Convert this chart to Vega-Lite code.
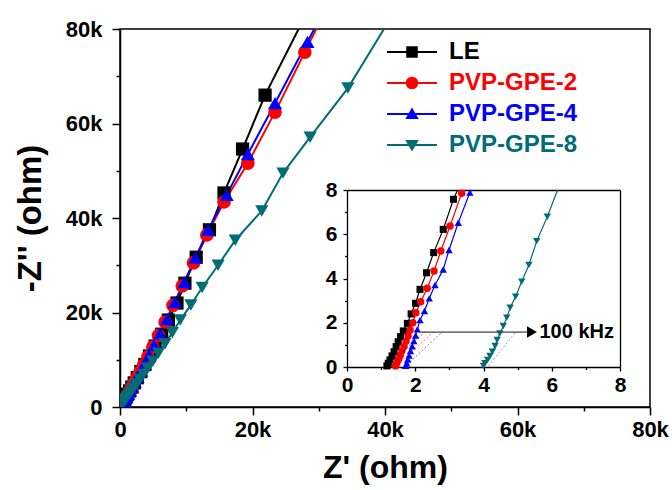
{
  "$schema": "https://vega.github.io/schema/vega-lite/v6.json",
  "width": 530,
  "height": 378,
  "autosize": "none",
  "padding": {"left": 120, "top": 29, "right": 22, "bottom": 83},
  "background": "white",
  "config": {
    "view": {"stroke": "black", "strokeWidth": 1.5},
    "font": "Liberation Sans",
    "axis": {"grid": false}
  },
  "datasets": {
    "main": [
      {"s": "LE", "x": 27500, "y": 81500}, {"s": "LE", "x": 21900, "y": 66000}, {"s": "LE", "x": 18500, "y": 54600}, {"s": "LE", "x": 15700, "y": 45300}, {"s": "LE", "x": 13500, "y": 37500}, {"s": "LE", "x": 11500, "y": 31700}, {"s": "LE", "x": 9800, "y": 26200}, {"s": "LE", "x": 8600, "y": 22000}, {"s": "LE", "x": 7300, "y": 18400}, {"s": "LE", "x": 6300, "y": 15400}, {"s": "LE", "x": 5300, "y": 12900}, {"s": "LE", "x": 4450, "y": 10800}, {"s": "LE", "x": 3750, "y": 9000}, {"s": "LE", "x": 3150, "y": 7500}, {"s": "LE", "x": 2600, "y": 6200}, {"s": "LE", "x": 2150, "y": 5100}, {"s": "LE", "x": 1780, "y": 4200}, {"s": "LE", "x": 1450, "y": 3400}, {"s": "LE", "x": 1150, "y": 2700}, {"s": "LE", "x": 900, "y": 2100}, {"s": "LE", "x": 690, "y": 1600}, {"s": "LE", "x": 520, "y": 1200}, {"s": "LE", "x": 370, "y": 850}, {"s": "LE", "x": 240, "y": 550}, {"s": "LE", "x": 130, "y": 300}, {"s": "LE", "x": 55, "y": 120}, {"s": "LE", "x": 10, "y": 20},
      {"s": "PVP-GPE-2", "x": 31500, "y": 85300}, {"s": "PVP-GPE-2", "x": 27900, "y": 75100}, {"s": "PVP-GPE-2", "x": 23400, "y": 62400}, {"s": "PVP-GPE-2", "x": 19300, "y": 51600}, {"s": "PVP-GPE-2", "x": 15700, "y": 43400}, {"s": "PVP-GPE-2", "x": 13100, "y": 36400}, {"s": "PVP-GPE-2", "x": 11100, "y": 30500}, {"s": "PVP-GPE-2", "x": 9400, "y": 25600}, {"s": "PVP-GPE-2", "x": 8000, "y": 21500}, {"s": "PVP-GPE-2", "x": 6800, "y": 18000}, {"s": "PVP-GPE-2", "x": 5800, "y": 15100}, {"s": "PVP-GPE-2", "x": 4950, "y": 12700}, {"s": "PVP-GPE-2", "x": 4200, "y": 10600}, {"s": "PVP-GPE-2", "x": 3550, "y": 8900}, {"s": "PVP-GPE-2", "x": 3000, "y": 7400}, {"s": "PVP-GPE-2", "x": 2520, "y": 6100}, {"s": "PVP-GPE-2", "x": 2100, "y": 5000}, {"s": "PVP-GPE-2", "x": 1750, "y": 4100}, {"s": "PVP-GPE-2", "x": 1430, "y": 3300}, {"s": "PVP-GPE-2", "x": 1150, "y": 2600}, {"s": "PVP-GPE-2", "x": 900, "y": 2000}, {"s": "PVP-GPE-2", "x": 690, "y": 1500}, {"s": "PVP-GPE-2", "x": 510, "y": 1100}, {"s": "PVP-GPE-2", "x": 360, "y": 750}, {"s": "PVP-GPE-2", "x": 230, "y": 450}, {"s": "PVP-GPE-2", "x": 120, "y": 220}, {"s": "PVP-GPE-2", "x": 40, "y": 60},
      {"s": "PVP-GPE-4", "x": 31600, "y": 86000}, {"s": "PVP-GPE-4", "x": 28300, "y": 77300}, {"s": "PVP-GPE-4", "x": 23400, "y": 64300}, {"s": "PVP-GPE-4", "x": 19300, "y": 53500}, {"s": "PVP-GPE-4", "x": 16100, "y": 44900}, {"s": "PVP-GPE-4", "x": 13300, "y": 37500}, {"s": "PVP-GPE-4", "x": 11400, "y": 31600}, {"s": "PVP-GPE-4", "x": 9700, "y": 26400}, {"s": "PVP-GPE-4", "x": 8300, "y": 22200}, {"s": "PVP-GPE-4", "x": 7100, "y": 18600}, {"s": "PVP-GPE-4", "x": 6050, "y": 15600}, {"s": "PVP-GPE-4", "x": 5150, "y": 13100}, {"s": "PVP-GPE-4", "x": 4400, "y": 11000}, {"s": "PVP-GPE-4", "x": 3750, "y": 9200}, {"s": "PVP-GPE-4", "x": 3150, "y": 7700}, {"s": "PVP-GPE-4", "x": 2650, "y": 6400}, {"s": "PVP-GPE-4", "x": 2220, "y": 5300}, {"s": "PVP-GPE-4", "x": 1840, "y": 4300}, {"s": "PVP-GPE-4", "x": 1520, "y": 3500}, {"s": "PVP-GPE-4", "x": 1230, "y": 2800}, {"s": "PVP-GPE-4", "x": 980, "y": 2200}, {"s": "PVP-GPE-4", "x": 760, "y": 1650}, {"s": "PVP-GPE-4", "x": 570, "y": 1200}, {"s": "PVP-GPE-4", "x": 410, "y": 820}, {"s": "PVP-GPE-4", "x": 270, "y": 500}, {"s": "PVP-GPE-4", "x": 150, "y": 250}, {"s": "PVP-GPE-4", "x": 50, "y": 70},
      {"s": "PVP-GPE-8", "x": 40500, "y": 81500}, {"s": "PVP-GPE-8", "x": 34400, "y": 67500}, {"s": "PVP-GPE-8", "x": 28700, "y": 57100}, {"s": "PVP-GPE-8", "x": 24600, "y": 49500}, {"s": "PVP-GPE-8", "x": 21400, "y": 41500}, {"s": "PVP-GPE-8", "x": 17400, "y": 35300}, {"s": "PVP-GPE-8", "x": 14800, "y": 30000}, {"s": "PVP-GPE-8", "x": 12400, "y": 25300}, {"s": "PVP-GPE-8", "x": 10700, "y": 21600}, {"s": "PVP-GPE-8", "x": 9100, "y": 18400}, {"s": "PVP-GPE-8", "x": 7900, "y": 15700}, {"s": "PVP-GPE-8", "x": 6800, "y": 13400}, {"s": "PVP-GPE-8", "x": 5800, "y": 11400}, {"s": "PVP-GPE-8", "x": 4950, "y": 9700}, {"s": "PVP-GPE-8", "x": 4200, "y": 8200}, {"s": "PVP-GPE-8", "x": 3550, "y": 6900}, {"s": "PVP-GPE-8", "x": 3000, "y": 5800}, {"s": "PVP-GPE-8", "x": 2500, "y": 4850}, {"s": "PVP-GPE-8", "x": 2080, "y": 4000}, {"s": "PVP-GPE-8", "x": 1720, "y": 3300}, {"s": "PVP-GPE-8", "x": 1400, "y": 2700}, {"s": "PVP-GPE-8", "x": 1120, "y": 2150}, {"s": "PVP-GPE-8", "x": 870, "y": 1650}, {"s": "PVP-GPE-8", "x": 660, "y": 1250}, {"s": "PVP-GPE-8", "x": 470, "y": 900}, {"s": "PVP-GPE-8", "x": 320, "y": 600}, {"s": "PVP-GPE-8", "x": 190, "y": 350}, {"s": "PVP-GPE-8", "x": 90, "y": 160}, {"s": "PVP-GPE-8", "x": 25, "y": 40}
    ],
    "inset": [
      {"s": "LE", "x": 1.17, "y": 0.05}, {"s": "LE", "x": 1.21, "y": 0.17}, {"s": "LE", "x": 1.26, "y": 0.32}, {"s": "LE", "x": 1.32, "y": 0.50}, {"s": "LE", "x": 1.38, "y": 0.69}, {"s": "LE", "x": 1.44, "y": 0.92}, {"s": "LE", "x": 1.50, "y": 1.14}, {"s": "LE", "x": 1.57, "y": 1.37}, {"s": "LE", "x": 1.65, "y": 1.63}, {"s": "LE", "x": 1.77, "y": 1.97}, {"s": "LE", "x": 1.88, "y": 2.40}, {"s": "LE", "x": 2.01, "y": 2.88}, {"s": "LE", "x": 2.14, "y": 3.51}, {"s": "LE", "x": 2.33, "y": 4.26}, {"s": "LE", "x": 2.54, "y": 5.17}, {"s": "LE", "x": 2.82, "y": 6.22}, {"s": "LE", "x": 3.12, "y": 7.58}, {"s": "LE", "x": 3.24, "y": 8.15},
      {"s": "PVP-GPE-2", "x": 1.42, "y": 0.05}, {"s": "PVP-GPE-2", "x": 1.46, "y": 0.17}, {"s": "PVP-GPE-2", "x": 1.51, "y": 0.34}, {"s": "PVP-GPE-2", "x": 1.56, "y": 0.52}, {"s": "PVP-GPE-2", "x": 1.61, "y": 0.72}, {"s": "PVP-GPE-2", "x": 1.67, "y": 0.93}, {"s": "PVP-GPE-2", "x": 1.73, "y": 1.16}, {"s": "PVP-GPE-2", "x": 1.79, "y": 1.40}, {"s": "PVP-GPE-2", "x": 1.85, "y": 1.67}, {"s": "PVP-GPE-2", "x": 1.93, "y": 2.00}, {"s": "PVP-GPE-2", "x": 2.02, "y": 2.45}, {"s": "PVP-GPE-2", "x": 2.16, "y": 2.95}, {"s": "PVP-GPE-2", "x": 2.35, "y": 3.56}, {"s": "PVP-GPE-2", "x": 2.55, "y": 4.34}, {"s": "PVP-GPE-2", "x": 2.75, "y": 5.24}, {"s": "PVP-GPE-2", "x": 3.02, "y": 6.37}, {"s": "PVP-GPE-2", "x": 3.36, "y": 7.85}, {"s": "PVP-GPE-2", "x": 3.45, "y": 8.15},
      {"s": "PVP-GPE-4", "x": 1.72, "y": 0.05}, {"s": "PVP-GPE-4", "x": 1.75, "y": 0.17}, {"s": "PVP-GPE-4", "x": 1.78, "y": 0.34}, {"s": "PVP-GPE-4", "x": 1.82, "y": 0.52}, {"s": "PVP-GPE-4", "x": 1.86, "y": 0.72}, {"s": "PVP-GPE-4", "x": 1.91, "y": 0.94}, {"s": "PVP-GPE-4", "x": 1.96, "y": 1.17}, {"s": "PVP-GPE-4", "x": 2.01, "y": 1.42}, {"s": "PVP-GPE-4", "x": 2.06, "y": 1.70}, {"s": "PVP-GPE-4", "x": 2.14, "y": 2.12}, {"s": "PVP-GPE-4", "x": 2.27, "y": 2.53}, {"s": "PVP-GPE-4", "x": 2.41, "y": 3.10}, {"s": "PVP-GPE-4", "x": 2.58, "y": 3.71}, {"s": "PVP-GPE-4", "x": 2.82, "y": 4.41}, {"s": "PVP-GPE-4", "x": 2.99, "y": 5.29}, {"s": "PVP-GPE-4", "x": 3.26, "y": 6.52}, {"s": "PVP-GPE-4", "x": 3.60, "y": 7.88}, {"s": "PVP-GPE-4", "x": 3.66, "y": 8.15},
      {"s": "PVP-GPE-8", "x": 4.00, "y": 0.05}, {"s": "PVP-GPE-8", "x": 4.04, "y": 0.17}, {"s": "PVP-GPE-8", "x": 4.12, "y": 0.32}, {"s": "PVP-GPE-8", "x": 4.19, "y": 0.50}, {"s": "PVP-GPE-8", "x": 4.26, "y": 0.69}, {"s": "PVP-GPE-8", "x": 4.34, "y": 0.95}, {"s": "PVP-GPE-8", "x": 4.40, "y": 1.22}, {"s": "PVP-GPE-8", "x": 4.48, "y": 1.52}, {"s": "PVP-GPE-8", "x": 4.58, "y": 1.85}, {"s": "PVP-GPE-8", "x": 4.68, "y": 2.23}, {"s": "PVP-GPE-8", "x": 4.78, "y": 2.68}, {"s": "PVP-GPE-8", "x": 4.94, "y": 3.18}, {"s": "PVP-GPE-8", "x": 5.12, "y": 3.86}, {"s": "PVP-GPE-8", "x": 5.33, "y": 4.61}, {"s": "PVP-GPE-8", "x": 5.56, "y": 5.69}, {"s": "PVP-GPE-8", "x": 5.87, "y": 6.79}, {"s": "PVP-GPE-8", "x": 6.17, "y": 8.15}
    ],
    "guides": [
      {"s": "LE", "x": 1.2, "y": 0.1, "x2": 2.3, "y2": 1.6},
      {"s": "PVP-GPE-2", "x": 1.46, "y": 0.1, "x2": 2.55, "y2": 1.6},
      {"s": "PVP-GPE-4", "x": 1.76, "y": 0.1, "x2": 2.8, "y2": 1.6},
      {"s": "PVP-GPE-8", "x": 4.15, "y": 0.05, "x2": 4.95, "y2": 1.6}
    ],
    "arrow": [{"x": 2.15, "x2": 5.42, "y": 1.58}],
    "note": [{"x": 5.64, "y": 1.58, "t": "100 kHz"}]
  },
  "resolve": {"scale": {"x": "independent", "y": "independent"}},
  "layer": [
    {
      "data": {"name": "main"},
      "mark": {"type": "line", "clip": true, "strokeWidth": 2},
      "encoding": {
        "x": {"field": "x", "type": "quantitative", "scale": {"domain": [0, 80000], "nice": false, "zero": false},
          "axis": {"orient": "bottom", "values": [0, 20000, 40000, 60000, 80000], "labelExpr": "datum.value == 0 ? '0' : (datum.value / 1000) + 'k'", "title": "Z' (ohm)", "tickSize": 8, "tickWidth": 1.5, "tickColor": "black", "domainColor": "black", "domainWidth": 1.5, "labelFont": "Liberation Sans", "labelFontSize": 22, "labelFontWeight": "bold", "labelColor": "black", "labelPadding": 4, "labelFlush": false, "labelOverlap": false, "titleFont": "Liberation Sans", "titleFontSize": 32, "titleFontWeight": "bold", "titleColor": "black", "titlePadding": 12, "grid": false}},
        "y": {"field": "y", "type": "quantitative", "scale": {"domain": [0, 80000], "nice": false, "zero": false},
          "axis": {"orient": "left", "values": [0, 20000, 40000, 60000, 80000], "labelExpr": "datum.value == 0 ? '0' : (datum.value / 1000) + 'k'", "title": "-Z'' (ohm)", "tickSize": 8, "tickWidth": 1.5, "tickColor": "black", "domainColor": "black", "domainWidth": 1.5, "labelFont": "Liberation Sans", "labelFontSize": 22, "labelFontWeight": "bold", "labelColor": "black", "labelPadding": 10, "labelFlush": false, "labelOverlap": false, "titleFont": "Liberation Sans", "titleFontSize": 33, "titleFontWeight": "bold", "titleColor": "black", "titlePadding": 18, "grid": false}},
        "order": {"field": "y", "type": "quantitative"},
        "color": {"field": "s", "type": "nominal",
          "scale": {"domain": ["LE", "PVP-GPE-2", "PVP-GPE-4", "PVP-GPE-8"], "range": ["#000000", "#ff0000", "#0000ff", "#006c75"]},
          "legend": {"orient": "none", "legendX": 260, "legendY": 11, "title": null, "padding": 0, "labelFont": "Liberation Sans", "labelFontSize": 24, "labelFontWeight": "bold", "labelOffset": 25, "labelLimit": 0, "rowPadding": 7, "symbolSize": 100, "symbolOffset": 20, "symbolType": "square",
            "encode": {
              "labels": {"update": {"fill": {"scale": "color", "field": "value"}}},
              "symbols": {"update": {
                "shape": {"signal": "datum.value == 'LE' ? 'M-5,-0.2H5V0.2H-5Z M-1.15,-1.15H1.15V1.15H-1.15Z' : datum.value == 'PVP-GPE-2' ? 'M-5,-0.2H5V0.2H-5Z M-1.25,0A1.25,1.25 0 1,1 1.25,0A1.25,1.25 0 1,1 -1.25,0Z' : datum.value == 'PVP-GPE-4' ? 'M-5,-0.2H5V0.2H-5Z M0,-1.3L1.35,1L-1.35,1Z' : 'M-5,-0.2H5V0.2H-5Z M0,1.3L-1.35,-1L1.35,-1Z'"},
                "fill": {"scale": "color", "field": "value"},
                "stroke": {"value": "transparent"},
                "strokeWidth": {"value": 0},
                "opacity": {"value": 1}
              }}
            }
          }
        }
      }
    },
    {
      "data": {"name": "main"},
      "transform": [{"filter": "datum.y <= 80000 && datum.s == 'LE'"}],
      "mark": {"type": "point", "shape": "square", "filled": true, "size": 175, "opacity": 1, "clip": true},
      "encoding": {
        "x": {"field": "x", "type": "quantitative", "scale": {"domain": [0, 80000], "nice": false, "zero": false}, "axis": null},
        "y": {"field": "y", "type": "quantitative", "scale": {"domain": [0, 80000], "nice": false, "zero": false}, "axis": null},
        "color": {"field": "s", "type": "nominal", "legend": null}
      }
    },
    {
      "data": {"name": "main"},
      "transform": [{"filter": "datum.y <= 80000 && datum.s == 'PVP-GPE-2'"}],
      "mark": {"type": "point", "shape": "circle", "filled": true, "size": 185, "opacity": 1, "clip": true},
      "encoding": {
        "x": {"field": "x", "type": "quantitative", "scale": {"domain": [0, 80000], "nice": false, "zero": false}, "axis": null},
        "y": {"field": "y", "type": "quantitative", "scale": {"domain": [0, 80000], "nice": false, "zero": false}, "axis": null},
        "color": {"field": "s", "type": "nominal", "legend": null}
      }
    },
    {
      "data": {"name": "main"},
      "transform": [{"filter": "datum.y <= 80000 && datum.s == 'PVP-GPE-4'"}],
      "mark": {"type": "point", "shape": "triangle-up", "filled": true, "size": 200, "opacity": 1, "clip": true},
      "encoding": {
        "x": {"field": "x", "type": "quantitative", "scale": {"domain": [0, 80000], "nice": false, "zero": false}, "axis": null},
        "y": {"field": "y", "type": "quantitative", "scale": {"domain": [0, 80000], "nice": false, "zero": false}, "axis": null},
        "color": {"field": "s", "type": "nominal", "legend": null}
      }
    },
    {
      "data": {"name": "main"},
      "transform": [{"filter": "datum.y <= 80000 && datum.s == 'PVP-GPE-8'"}],
      "mark": {"type": "point", "shape": "triangle-down", "filled": true, "size": 175, "opacity": 1, "clip": true},
      "encoding": {
        "x": {"field": "x", "type": "quantitative", "scale": {"domain": [0, 80000], "nice": false, "zero": false}, "axis": null},
        "y": {"field": "y", "type": "quantitative", "scale": {"domain": [0, 80000], "nice": false, "zero": false}, "axis": null},
        "color": {"field": "s", "type": "nominal", "legend": null}
      }
    },
    {
      "data": {"name": "main"},
      "mark": {"type": "point", "opacity": 0},
      "encoding": {
        "x": {"field": "x", "type": "quantitative", "scale": {"domain": [0, 80000], "nice": false, "zero": false},
          "axis": {"orient": "bottom", "values": [10000, 30000, 50000, 70000], "labels": false, "domain": false, "tickSize": 4, "tickWidth": 1.5, "tickColor": "black", "title": null, "grid": false}},
        "y": {"field": "y", "type": "quantitative", "scale": {"domain": [0, 80000], "nice": false, "zero": false},
          "axis": {"orient": "left", "values": [10000, 30000, 50000, 70000], "labels": false, "domain": false, "tickSize": 4, "tickWidth": 1.5, "tickColor": "black", "title": null, "grid": false}}
      }
    },
    {
      "data": {"name": "inset"},
      "mark": {"type": "point", "opacity": 0},
      "encoding": {
        "x": {"field": "x", "type": "quantitative", "scale": {"domain": [0, 8], "range": [227, 500], "nice": false, "zero": false},
          "axis": {"orient": "top", "offset": -161, "labels": false, "ticks": false, "domainColor": "black", "domainWidth": 1.3, "title": null, "grid": false}},
        "y": {"field": "y", "type": "quantitative", "scale": {"domain": [0, 8], "range": [338, 161], "nice": false, "zero": false, "clamp": true},
          "axis": {"orient": "right", "offset": -30, "labels": false, "ticks": false, "domainColor": "black", "domainWidth": 1.3, "title": null, "grid": false}}
      }
    },
    {
      "data": {"name": "inset"},
      "mark": {"type": "line", "strokeWidth": 1.2},
      "encoding": {
        "x": {"field": "x", "type": "quantitative", "scale": {"domain": [0, 8], "range": [227, 500], "nice": false, "zero": false},
          "axis": {"orient": "bottom", "offset": -40, "values": [0, 2, 4, 6, 8], "tickSize": 4, "tickWidth": 1.3, "tickColor": "black", "domainColor": "black", "domainWidth": 1.3, "labelFont": "Liberation Sans", "labelFontSize": 21, "labelFontWeight": "bold", "labelColor": "black", "labelPadding": 3, "labelFlush": false, "labelOverlap": false, "title": null, "grid": false}},
        "y": {"field": "y", "type": "quantitative", "scale": {"domain": [0, 8], "range": [338, 161], "nice": false, "zero": false, "clamp": true},
          "axis": {"orient": "left", "offset": -227, "values": [0, 2, 4, 6, 8], "tickSize": 4, "tickWidth": 1.3, "tickColor": "black", "domainColor": "black", "domainWidth": 1.3, "labelFont": "Liberation Sans", "labelFontSize": 21, "labelFontWeight": "bold", "labelColor": "black", "labelPadding": 6, "labelFlush": false, "labelOverlap": false, "title": null, "grid": false}},
        "order": {"field": "y", "type": "quantitative"},
        "color": {"field": "s", "type": "nominal", "legend": null}
      }
    },
    {
      "data": {"name": "inset"},
      "transform": [{"filter": "datum.y <= 8 && datum.s == 'LE'"}],
      "mark": {"type": "point", "shape": "square", "filled": true, "size": 50, "opacity": 1},
      "encoding": {
        "x": {"field": "x", "type": "quantitative", "scale": {"domain": [0, 8], "range": [227, 500], "nice": false, "zero": false}, "axis": null},
        "y": {"field": "y", "type": "quantitative", "scale": {"domain": [0, 8], "range": [338, 161], "nice": false, "zero": false}, "axis": null},
        "color": {"field": "s", "type": "nominal", "legend": null}
      }
    },
    {
      "data": {"name": "inset"},
      "transform": [{"filter": "datum.y <= 8 && datum.s == 'PVP-GPE-2'"}],
      "mark": {"type": "point", "shape": "circle", "filled": true, "size": 55, "opacity": 1},
      "encoding": {
        "x": {"field": "x", "type": "quantitative", "scale": {"domain": [0, 8], "range": [227, 500], "nice": false, "zero": false}, "axis": null},
        "y": {"field": "y", "type": "quantitative", "scale": {"domain": [0, 8], "range": [338, 161], "nice": false, "zero": false}, "axis": null},
        "color": {"field": "s", "type": "nominal", "legend": null}
      }
    },
    {
      "data": {"name": "inset"},
      "transform": [{"filter": "datum.y <= 8 && datum.s == 'PVP-GPE-4'"}],
      "mark": {"type": "point", "shape": "triangle-up", "filled": true, "size": 55, "opacity": 1},
      "encoding": {
        "x": {"field": "x", "type": "quantitative", "scale": {"domain": [0, 8], "range": [227, 500], "nice": false, "zero": false}, "axis": null},
        "y": {"field": "y", "type": "quantitative", "scale": {"domain": [0, 8], "range": [338, 161], "nice": false, "zero": false}, "axis": null},
        "color": {"field": "s", "type": "nominal", "legend": null}
      }
    },
    {
      "data": {"name": "inset"},
      "transform": [{"filter": "datum.y <= 8 && datum.s == 'PVP-GPE-8'"}],
      "mark": {"type": "point", "shape": "triangle-down", "filled": true, "size": 55, "opacity": 1},
      "encoding": {
        "x": {"field": "x", "type": "quantitative", "scale": {"domain": [0, 8], "range": [227, 500], "nice": false, "zero": false}, "axis": null},
        "y": {"field": "y", "type": "quantitative", "scale": {"domain": [0, 8], "range": [338, 161], "nice": false, "zero": false}, "axis": null},
        "color": {"field": "s", "type": "nominal", "legend": null}
      }
    },
    {
      "data": {"name": "inset"},
      "mark": {"type": "point", "opacity": 0},
      "encoding": {
        "x": {"field": "x", "type": "quantitative", "scale": {"domain": [0, 8], "range": [227, 500], "nice": false, "zero": false},
          "axis": {"orient": "bottom", "offset": -40, "values": [1, 3, 5, 7], "labels": false, "domain": false, "tickSize": 2.5, "tickWidth": 1.3, "tickColor": "black", "title": null, "grid": false}},
        "y": {"field": "y", "type": "quantitative", "scale": {"domain": [0, 8], "range": [338, 161], "nice": false, "zero": false, "clamp": true},
          "axis": {"orient": "left", "offset": -227, "values": [1, 3, 5, 7], "labels": false, "domain": false, "tickSize": 2.5, "tickWidth": 1.3, "tickColor": "black", "title": null, "grid": false}}
      }
    },
    {
      "data": {"name": "guides"},
      "mark": {"type": "rule", "strokeWidth": 1, "strokeDash": [2, 2], "opacity": 0.55},
      "encoding": {
        "x": {"field": "x", "type": "quantitative", "scale": {"domain": [0, 8], "range": [227, 500], "nice": false, "zero": false}, "axis": null},
        "x2": {"field": "x2"},
        "y": {"field": "y", "type": "quantitative", "scale": {"domain": [0, 8], "range": [338, 161], "nice": false, "zero": false}, "axis": null},
        "y2": {"field": "y2"},
        "color": {"field": "s", "type": "nominal", "legend": null}
      }
    },
    {
      "data": {"name": "arrow"},
      "mark": {"type": "rule", "strokeWidth": 1.3, "color": "#444444"},
      "encoding": {
        "x": {"field": "x", "type": "quantitative", "scale": {"domain": [0, 8], "range": [227, 500], "nice": false, "zero": false}, "axis": null},
        "x2": {"field": "x2"},
        "y": {"field": "y", "type": "quantitative", "scale": {"domain": [0, 8], "range": [338, 161], "nice": false, "zero": false}, "axis": null}
      }
    },
    {
      "data": {"name": "arrow"},
      "mark": {"type": "point", "shape": "triangle-right", "filled": true, "size": 130, "color": "black", "opacity": 1},
      "encoding": {
        "x": {"field": "x2", "type": "quantitative", "scale": {"domain": [0, 8], "range": [227, 500], "nice": false, "zero": false}, "axis": null},
        "y": {"field": "y", "type": "quantitative", "scale": {"domain": [0, 8], "range": [338, 161], "nice": false, "zero": false}, "axis": null}
      }
    },
    {
      "data": {"name": "note"},
      "mark": {"type": "text", "align": "left", "baseline": "middle", "font": "Liberation Sans", "fontSize": 20, "fontWeight": "bold", "color": "black"},
      "encoding": {
        "x": {"field": "x", "type": "quantitative", "scale": {"domain": [0, 8], "range": [227, 500], "nice": false, "zero": false}, "axis": null},
        "y": {"field": "y", "type": "quantitative", "scale": {"domain": [0, 8], "range": [338, 161], "nice": false, "zero": false}, "axis": null},
        "text": {"field": "t"}
      }
    }
  ]
}
